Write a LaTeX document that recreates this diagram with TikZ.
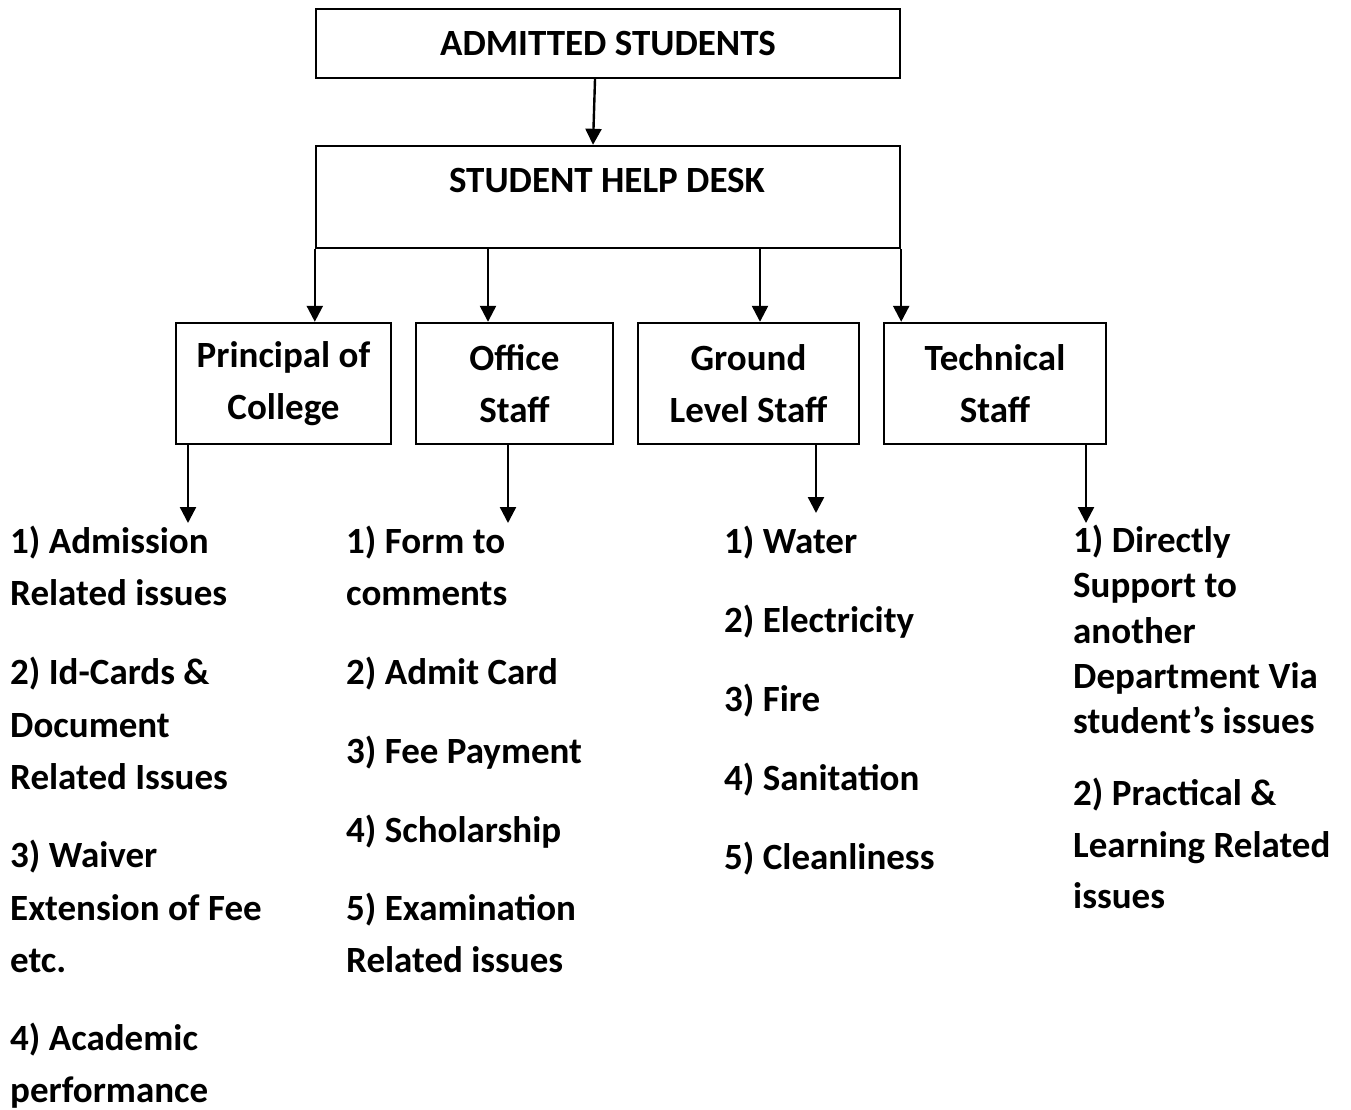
\documentclass[tikz,border=0pt]{standalone}
\usepackage{fontspec}
\setmainfont{Carlito}
\usetikzlibrary{arrows.meta}
\begin{document}
\begin{tikzpicture}[x=1pt,y=-1pt,
  txt/.style={font=\fontsize{37}{52}\selectfont\bfseries, inner sep=0pt},
  box/.style={draw, line width=2.4pt, inner sep=0pt, align=center, font=\fontsize{37}{52}\selectfont\bfseries},
  item/.style={txt, anchor=base west},
  arr/.style={line width=2.4pt, -{Triangle[length=16pt,width=16pt]}}]
\useasboundingbox (0,0) rectangle (1351,1110);
\fill[white] (0,0) rectangle (1351,1110);

% top boxes
\node[box, minimum width=584pt, minimum height=69pt] (adm) at (608,43.5) {ADMITTED STUDENTS};
\node[box, minimum width=584pt, minimum height=102pt] (hd) at (608,197) {};
\node[txt, anchor=base] (hdt) at (607,193) {STUDENT HELP DESK};

% second-level boxes
\node[box, minimum width=215pt, minimum height=121pt] (pc) at (283.5,383.5) {Principal of\\College};
\node[box, minimum width=197pt, minimum height=121pt] (os) at (514.5,383.5) {Office\\Staff};
\node[box, minimum width=221pt, minimum height=121pt] (gs) at (748.5,383.5) {Ground\\Level Staff};
\node[box, minimum width=222pt, minimum height=121pt] (ts) at (995,383.5) {Technical\\Staff};

% arrows
\draw[arr] ([xshift=-13pt]adm.south) -- ([xshift=-15pt]hd.north);
\draw[arr] (hd.south west) -- (hd.south west |- pc.north);
\draw[arr] ([xshift=-120pt]hd.south) -- ([xshift=-120pt]hd.south |- os.north);
\draw[arr] ([xshift=152pt]hd.south) -- ([xshift=152pt]hd.south |- gs.north);
\draw[arr] (hd.south east) -- (hd.south east |- ts.north);

\coordinate (pce) at (188,523);
\coordinate (ose) at (508,523);
\coordinate (gse) at (816,513);
\coordinate (tse) at (1086,523);
\draw[arr] (pc.south -| pce) -- (pce);
\draw[arr] (os.south -| ose) -- (ose);
\draw[arr] (gs.south -| gse) -- (gse);
\draw[arr] (ts.south -| tse) -- (tse);

% column 1
\foreach \yy/\tt [count=\i] in {553/{1) Admission}, 605/{Related issues}, 684/{2) Id-Cards \&}, 737/{Document}, 789/{Related Issues}, 867/{3) Waiver}, 920/{Extension of Fee}, 972/{etc.}, 1050/{4) Academic}, 1102/{performance}}
  \node[item] (pa\i) at (10,\yy) {\tt};
% column 2
\foreach \yy/\tt [count=\i] in {553/{1) Form to}, 605/{comments}, 684/{2) Admit Card}, 763/{3) Fee Payment}, 842/{4) Scholarship}, 920/{5) Examination}, 972/{Related issues}}
  \node[item] (ob\i) at (346,\yy) {\tt};
% column 3
\foreach \yy/\tt [count=\i] in {553/{1) Water}, 632/{2) Electricity}, 711/{3) Fire}, 790/{4) Sanitation}, 869/{5) Cleanliness}}
  \node[item] (gc\i) at (724,\yy) {\tt};
% column 4
\foreach \yy/\tt [count=\i] in {552/{1) Directly}, 597/{Support to}, 643/{another}, 688/{Department Via}, 733/{student’s issues}, 805/{2) Practical \&}, 857/{Learning Related}, 908/{issues}}
  \node[item] (td\i) at (1073,\yy) {\tt};
\end{tikzpicture}
\end{document}
